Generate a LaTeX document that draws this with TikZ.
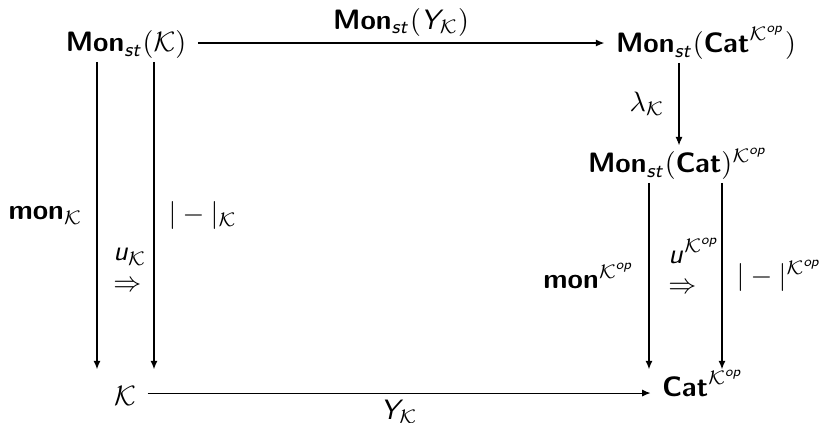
\documentclass[tikz,border=0pt]{standalone}
\usepackage{amsmath,amssymb}
\usetikzlibrary{positioning,arrows.meta,calc}

\DeclareMathAlphabet{\mathsfit}{OT1}{cmss}{m}{sl}
\DeclareMathAlphabet{\mathsfbf}{OT1}{cmss}{bx}{n}
\newcommand{\Mon}{\mathsfbf{Mon}}
\newcommand{\Cat}{\mathsfbf{Cat}}
\newcommand{\mon}{\mathsfbf{mon}}
\newcommand{\stt}{\mathsfit{st}}
\newcommand{\Kc}{\mathcal{K}}
\newcommand{\Kop}{\mathcal{K}^{\mathsfit{op}}}

\begin{document}
\begin{tikzpicture}[
    x=0.357pt, y=-0.357pt,
    obj/.style={anchor=base, inner xsep=4pt, inner ysep=0.8pt},
    lbl/.style={inner sep=1pt},
    cell/.style={anchor=west, align=left, inner sep=1pt},
    arr/.style={-{Latex[length=3pt,width=2.5pt]}, line width=0.4pt}
  ]
  \useasboundingbox (0,0) rectangle (822,423);

  % Objects
  \node[obj] (monK) at (126,52) {$\Mon_{\stt}(\Kc)$};
  \node[obj] (monCatK) at (706,53) {$\Mon_{\stt}(\Cat^{\Kop})$};
  \node[obj] (monCatPow) at (678,173) {$\Mon_{\stt}(\Cat)^{\Kop}$};
  \node[obj] (cK) at (125,406) {$\Kc$};
  \node[obj, inner ysep=0pt] (catK) at (703,397) {$\Cat^{\Kop}$};

  % Arrow columns
  \coordinate (colA) at (97,0);
  \coordinate (colB) at (154,0);
  \coordinate (colL) at (679,0);
  \coordinate (colC) at (649,0);
  \coordinate (colD) at (722,0);

  % Horizontal arrows
  \draw[arr] ([yshift=0.7pt]monK.east) -- ([yshift=0.7pt]monK.east -| monCatK.west)
    node[midway, above=1.2pt, lbl] {$\Mon_{\stt}(\mathsfit{Y}_{\Kc})$};
  \draw[arr] ([yshift=1.2pt]cK.east) -- ([yshift=1.2pt]cK.east -| catK.west)
    node[midway, below=1.2pt, lbl] {$\mathsfit{Y}_{\Kc}$};

  % Vertical arrows
  \draw[arr] (monK.south -| colA) -- (colA |- catK.north)
    node[midway, left=4pt, lbl] {$\mon_{\Kc}$};
  \draw[arr] (monK.south -| colB) -- (colB |- catK.north)
    node[midway, right=4pt, lbl] {$|-|_{\Kc}$};
  \draw[arr] (monCatK.south -| colL) -- (colL |- monCatPow.north)
    node[midway, left=4pt, lbl] {$\lambda_{\Kc}$};
  \draw[arr] (monCatPow.south -| colC) -- (colC |- catK.north)
    node[midway, left=4pt, lbl] {$\mon^{\Kop}$};
  \draw[arr] (monCatPow.south -| colD) -- (colD |- catK.north)
    node[midway, right=4pt, lbl] {$|-|^{\Kop}$};

  % 2-cells
  \node[cell] (uK) at (110,270) {$\mathsfit{u}_{\Kc}$\\[-1pt]$\Rightarrow$};
  \node[cell] (uKop) at (665,266) {$\mathsfit{u}^{\Kop}$\\[-1pt]$\Rightarrow$};
\end{tikzpicture}
\end{document}
